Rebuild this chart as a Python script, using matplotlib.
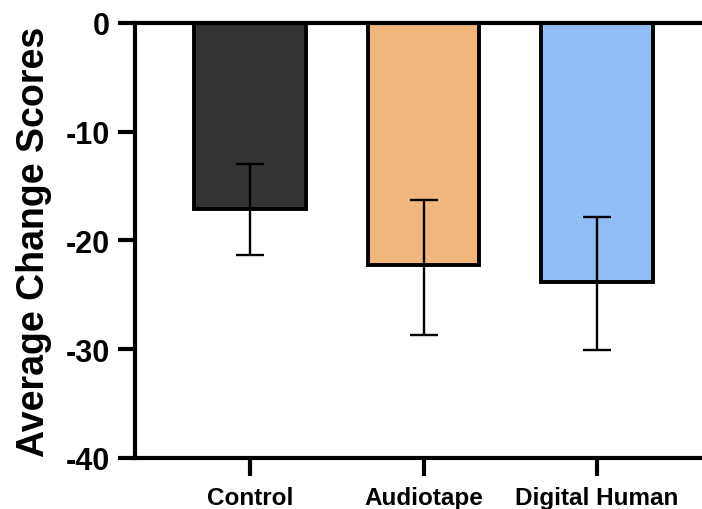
import matplotlib

matplotlib.use("Agg")
import matplotlib.pyplot as plt
import numpy as np

plt.rcParams["font.family"] = ["Liberation Sans", "DejaVu Sans"]
plt.rcParams["font.weight"] = "bold"

# data
groups = ["Control", "Audiotape", "Digital Human"]
means = [-17.1, -22.3, -23.8]
err_low = [4.2, 6.4, 6.3]
err_high = [4.1, 6.0, 6.0]
colors = ["#333333", "#F0B67D", "#92BEF7"]
y_ticks = [0, -10, -20, -30, -40]

fig = plt.figure(figsize=(7.02, 5.10), dpi=100)
ax = fig.add_axes([0.1923, 0.10, 0.8077, 0.853])

x = np.arange(len(groups))
ax.bar(x, means, width=0.645, color=colors, edgecolor="black", linewidth=2.8, zorder=2)
ax.errorbar(x, means, yerr=[err_low, err_high], fmt="none", ecolor="black",
            elinewidth=1.7, capsize=10, capthick=1.7, zorder=3)

ax.set_xlim(-0.663, 2.605)
ax.set_ylim(-40, 0)
ax.set_yticks(y_ticks)
ax.set_yticklabels([str(v) for v in y_ticks])
ax.set_xticks(x)
ax.set_xticklabels(groups)

for side in ["left", "top", "bottom"]:
    ax.spines[side].set_linewidth(3)
    ax.spines[side].set_zorder(4)
ax.spines["right"].set_visible(False)

ax.tick_params(axis="y", length=12, width=3, pad=6, labelsize=22)
ax.tick_params(axis="x", length=13, width=3, pad=7, labelsize=17.5)
for lbl in ax.get_xticklabels() + ax.get_yticklabels():
    lbl.set_fontweight("bold")

ax.set_ylabel("Average Change Scores", fontsize=27, fontweight="bold", labelpad=10)

plt.savefig("out.png", dpi=100)
plt.close()
